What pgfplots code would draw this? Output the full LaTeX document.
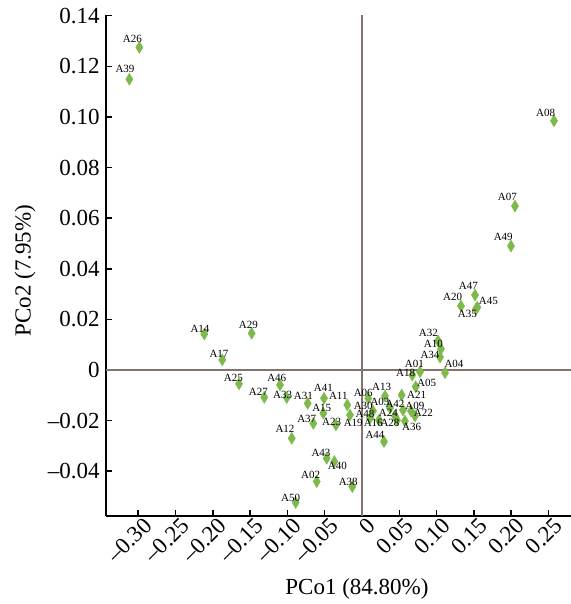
\documentclass[border=0pt]{standalone}
\usepackage{fontspec}
\setmainfont{Liberation Serif}
\usepackage{pgfplots}
\usepackage{pgfplotstable}
\pgfplotsset{compat=1.18}
\definecolor{ptgreen}{RGB}{125,185,75}
\definecolor{zline}{RGB}{130,115,110}

\pgfplotstableread{
name x y lx ly
A26 -0.2985 0.1275 -0.3079 0.1308
A39 -0.3119 0.1149 -0.3177 0.1189
A08 0.2574 0.0985 0.2462 0.1017
A07 0.2051 0.0648 0.1948 0.0683
A49 0.1997 0.0490 0.1894 0.0525
A47 0.1515 0.0296 0.1425 0.0332
A20 0.1327 0.0253 0.1216 0.0290
A45 0.1546 0.0248 0.1693 0.0274
A35 0.1528 0.0241 0.1412 0.0221
A32 0.1019 0.0115 0.0889 0.0147
A10 0.1059 0.0083 0.0956 0.0103
A34 0.1046 0.0051 0.0912 0.0059
A04 0.1113 -0.0011 0.1233 0.0024
A01 0.0778 -0.0007 0.0701 0.0026
A18 0.0674 -0.0020 0.0586 -0.0013
A05 0.0720 -0.0066 0.0867 -0.0049
A06 0.0084 -0.0112 0.0017 -0.0092
A13 0.0308 -0.0103 0.0264 -0.0068
A21 0.0532 -0.0099 0.0733 -0.0099
A03 0.0375 -0.0150 0.0241 -0.0125
A42 0.0550 -0.0158 0.0442 -0.0134
A09 0.0657 -0.0162 0.0710 -0.0142
A30 0.0147 -0.0162 0.0017 -0.0142
A48 0.0107 -0.0190 0.0040 -0.0175
A24 0.0442 -0.0182 0.0353 -0.0171
A22 0.0710 -0.0182 0.0822 -0.0171
A16 0.0228 -0.0198 0.0151 -0.0211
A28 0.0469 -0.0198 0.0375 -0.0211
A36 0.0576 -0.0202 0.0666 -0.0224
A19 -0.0161 -0.0178 -0.0117 -0.0208
A44 0.0295 -0.0283 0.0174 -0.0257
A11 -0.0197 -0.0138 -0.0318 -0.0103
A41 -0.0509 -0.0112 -0.0519 -0.0072
A31 -0.0728 -0.0132 -0.0787 -0.0103
A33 -0.1009 -0.0109 -0.1063 -0.0099
A46 -0.1099 -0.0059 -0.1143 -0.0033
A27 -0.1310 -0.0108 -0.1390 -0.0088
A15 -0.0519 -0.0171 -0.0540 -0.0151
A37 -0.0653 -0.0211 -0.0741 -0.0195
A23 -0.0349 -0.0217 -0.0406 -0.0204
A12 -0.0942 -0.0270 -0.1032 -0.0233
A25 -0.1649 -0.0055 -0.1725 -0.0033
A17 -0.1873 0.0040 -0.1917 0.0063
A14 -0.2114 0.0142 -0.2172 0.0162
A29 -0.1479 0.0145 -0.1524 0.0178
A43 -0.0473 -0.0349 -0.0550 -0.0329
A40 -0.0371 -0.0362 -0.0331 -0.0379
A02 -0.0607 -0.0441 -0.0688 -0.0415
A38 -0.0130 -0.0461 -0.0184 -0.0444
A50 -0.0889 -0.0524 -0.0956 -0.0507
}\pcodata

\begin{document}
\begin{tikzpicture}
\begin{axis}[
  scale only axis, width=251pt, height=250.5pt,
  xmin=-0.3432, xmax=0.3298, ymin=-0.0577, ymax=0.1403,
  axis x line=bottom, axis y line=left,
  axis line style={-, line width=0.75pt, black},
  tick align=inside, major tick length=3pt,
  tick style={line width=0.75pt, black},
  xtick={-0.30,-0.25,-0.20,-0.15,-0.10,-0.05,0,0.05,0.10,0.15,0.20,0.25},
  xticklabels={\textendash0.30,\textendash0.25,\textendash0.20,\textendash0.15,\textendash0.10,\textendash0.05,0,0.05,0.10,0.15,0.20,0.25},
  ytick={-0.04,-0.02,0,0.02,0.04,0.06,0.08,0.10,0.12,0.14},
  yticklabels={\textendash0.04,\textendash0.02,0,0.02,0.04,0.06,0.08,0.10,0.12,0.14},
  xticklabel style={rotate=45, anchor=east, inner sep=0pt, xshift=1.5pt, yshift=-5.5pt, font=\fontsize{11.5}{13}\selectfont},
  yticklabel style={anchor=east, inner sep=0pt, xshift=-3pt, font=\fontsize{11.5}{13}\selectfont},
  xlabel={PCo1 (84.80\%)}, ylabel={PCo2 (7.95\%)},
  xlabel style={at={(axis description cs:0.5,-0.1457)}, anchor=center, font=\fontsize{11.5}{13}\selectfont},
  ylabel style={at={(axis description cs:-0.1614,0.49)}, anchor=center, font=\fontsize{11.5}{13}\selectfont},
  clip=false,
]
\addplot[zline, line width=0.6pt, mark=none] coordinates {(0,-0.0577) (0,0.1403)};
\addplot[zline, line width=0.6pt, mark=none] coordinates {(-0.3432,0) (0.3298,0)};
\addplot[only marks, mark=diamond*, mark size=3pt, mark options={xscale=0.8, fill=ptgreen, draw=ptgreen, line width=0.2pt}]
  table[x=x, y=y] {\pcodata};
\addplot[draw=none, mark=none,
  nodes near coords, point meta=explicit symbolic,
  nodes near coords style={anchor=center, inner sep=0pt, font=\fontsize{5.5}{6}\selectfont, text=black}]
  table[x=lx, y=ly, meta=name] {\pcodata};
\end{axis}
\pgfresetboundingbox
\useasboundingbox (-53pt,-44pt) rectangle (232.5pt,258pt);
\end{tikzpicture}
\end{document}
